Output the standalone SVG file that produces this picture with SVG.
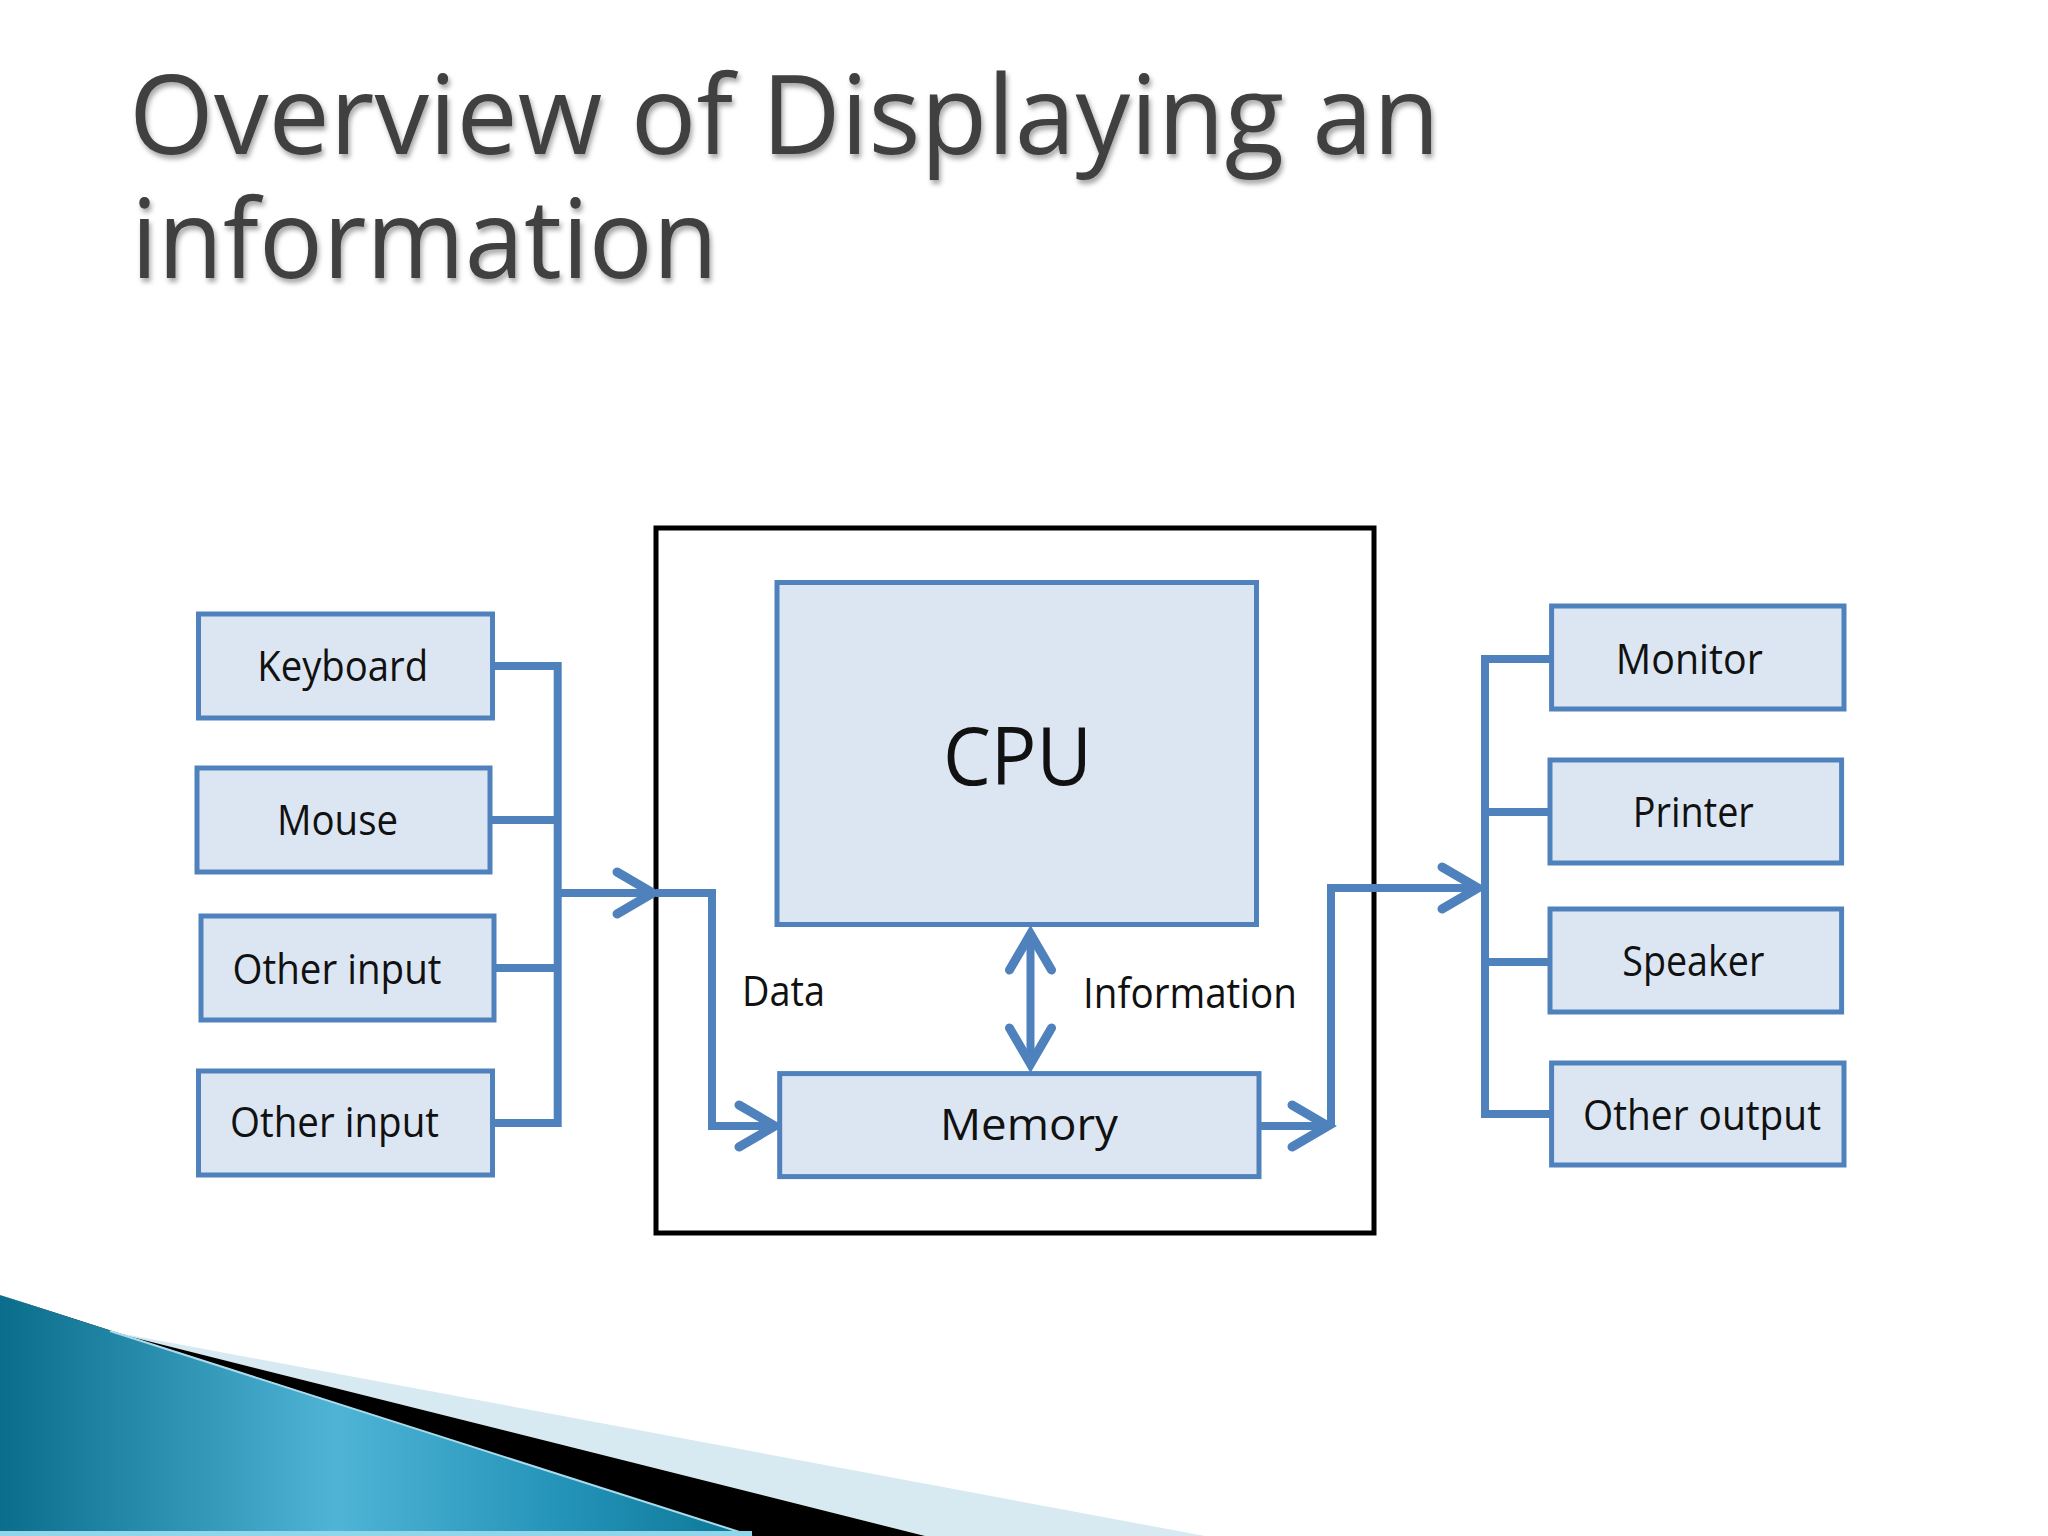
<svg xmlns="http://www.w3.org/2000/svg" width="2048" height="1536" viewBox="0 0 2048 1536">
<defs>
<style>
.box{fill:#dce6f2;stroke:#4f81bd;stroke-width:5}
.lbl{font-family:"Open Sans","Noto Sans",sans-serif;font-size:42px;fill:#111;text-anchor:middle}
.free{font-family:"Open Sans","Noto Sans",sans-serif;font-size:42px;fill:#111}
.con{fill:none;stroke:#4f81bd;stroke-width:8;stroke-linejoin:miter}
.arr{marker-end:url(#chev)}
.title{font-family:"Open Sans","Noto Sans",sans-serif;font-size:110px;fill:#404040}
</style>
<marker id="chev" markerUnits="userSpaceOnUse" orient="auto-start-reverse" markerWidth="60" markerHeight="60" viewBox="-50 -30 60 60" refX="0" refY="0">
<path d="M-36,-21 L0,0 L-36,21" fill="none" stroke="#4f81bd" stroke-width="9" stroke-linecap="round" stroke-linejoin="miter"/>
</marker>
<linearGradient id="teal" x1="0" y1="0" x2="1" y2="0">
<stop offset="0" stop-color="#0a6d8c"/>
<stop offset="0.45" stop-color="#4fb4d6"/>
<stop offset="0.75" stop-color="#2493b8"/>
<stop offset="1" stop-color="#0c7797"/>
</linearGradient>
<filter id="shadow" x="-5%" y="-20%" width="110%" height="150%">
<feDropShadow dx="2" dy="4" stdDeviation="2.5" flood-color="#000" flood-opacity="0.35"/>
</filter>
</defs>
<rect width="2048" height="1536" fill="#fff"/>

<g id="swoosh">
<polygon points="108,1331 1205,1536 925,1536" fill="#d7e9f1"/>
<polygon points="0,1295 108,1331 925,1536 750,1536" fill="#000"/>
<polygon points="0,1295 750,1536 0,1536" fill="url(#teal)"/>
<line x1="110" y1="1331" x2="752" y2="1536" stroke="#a9dbea" stroke-width="2"/>
<rect x="0" y="1531" width="752" height="5" fill="#8fd6ea"/>
</g>

<g id="title" filter="url(#shadow)">
<text class="title" x="129" y="154" textLength="1311" lengthAdjust="spacingAndGlyphs">Overview of Displaying an</text>
<text class="title" x="131" y="278" textLength="587" lengthAdjust="spacingAndGlyphs">information</text>
</g>

<g id="system">
<rect x="656" y="528" width="718" height="705" fill="none" stroke="#000" stroke-width="5"/>
</g>

<g id="connectors">
<path class="con" d="M492,666 H557.7 V1123 H492"/>
<path class="con" d="M490,820 H557.7"/>
<path class="con" d="M494,968 H557.7"/>
<path class="con arr" d="M557.7,893 H653"/>
<path class="con arr" d="M656,893 H712 V1126 H775"/>
<path class="con" d="M1030.5,934 V1064" marker-start="url(#chev)" marker-end="url(#chev)"/>
<path class="con arr" d="M1259,1126 H1328"/>
<path class="con arr" d="M1331,1126 V888 H1478"/>
<path class="con" d="M1551,659 H1485 V1114 H1551"/>
<path class="con" d="M1550,812 H1485"/>
<path class="con" d="M1550,962 H1485"/>
</g>

<g id="keyboard"><rect class="box" x="198.5" y="614" width="294" height="104"/><text class="lbl" x="342.7" y="681" textLength="171" lengthAdjust="spacingAndGlyphs">Keyboard</text></g>
<g id="mouse"><rect class="box" x="197" y="768" width="293" height="104"/><text class="lbl" x="337.5" y="835" textLength="121" lengthAdjust="spacingAndGlyphs">Mouse</text></g>
<g id="other-input-1"><rect class="box" x="201" y="916" width="293" height="104"/><text class="lbl" x="337" y="984" textLength="209" lengthAdjust="spacingAndGlyphs">Other input</text></g>
<g id="other-input-2"><rect class="box" x="198.5" y="1071" width="294" height="104"/><text class="lbl" x="334.5" y="1137" textLength="209" lengthAdjust="spacingAndGlyphs">Other input</text></g>

<g id="cpu"><rect class="box" x="777" y="582.5" width="479.5" height="342"/><text class="lbl" x="1017.5" y="785" font-size="80" style="font-size:80px" textLength="149" lengthAdjust="spacingAndGlyphs">CPU</text></g>
<g id="memory"><rect class="box" x="779.7" y="1073.6" width="479.3" height="103"/><text class="lbl" x="1029" y="1140" style="font-size:44px" textLength="178" lengthAdjust="spacingAndGlyphs">Memory</text></g>

<g id="labels">
<text class="free" x="742" y="1006" textLength="83" lengthAdjust="spacingAndGlyphs">Data</text>
<text class="free" x="1083" y="1008" textLength="214" lengthAdjust="spacingAndGlyphs">Information</text>
</g>

<g id="monitor"><rect class="box" x="1551.6" y="606" width="292.4" height="103"/><text class="lbl" x="1689.3" y="674" textLength="147" lengthAdjust="spacingAndGlyphs">Monitor</text></g>
<g id="printer"><rect class="box" x="1550" y="760" width="291.6" height="103"/><text class="lbl" x="1693.3" y="827" textLength="121" lengthAdjust="spacingAndGlyphs">Printer</text></g>
<g id="speaker"><rect class="box" x="1550" y="909" width="291.6" height="103"/><text class="lbl" x="1693.3" y="976" textLength="142" lengthAdjust="spacingAndGlyphs">Speaker</text></g>
<g id="other-output"><rect class="box" x="1551.6" y="1063" width="292.4" height="102"/><text class="lbl" x="1702" y="1130" textLength="238" lengthAdjust="spacingAndGlyphs">Other output</text></g>
</svg>
